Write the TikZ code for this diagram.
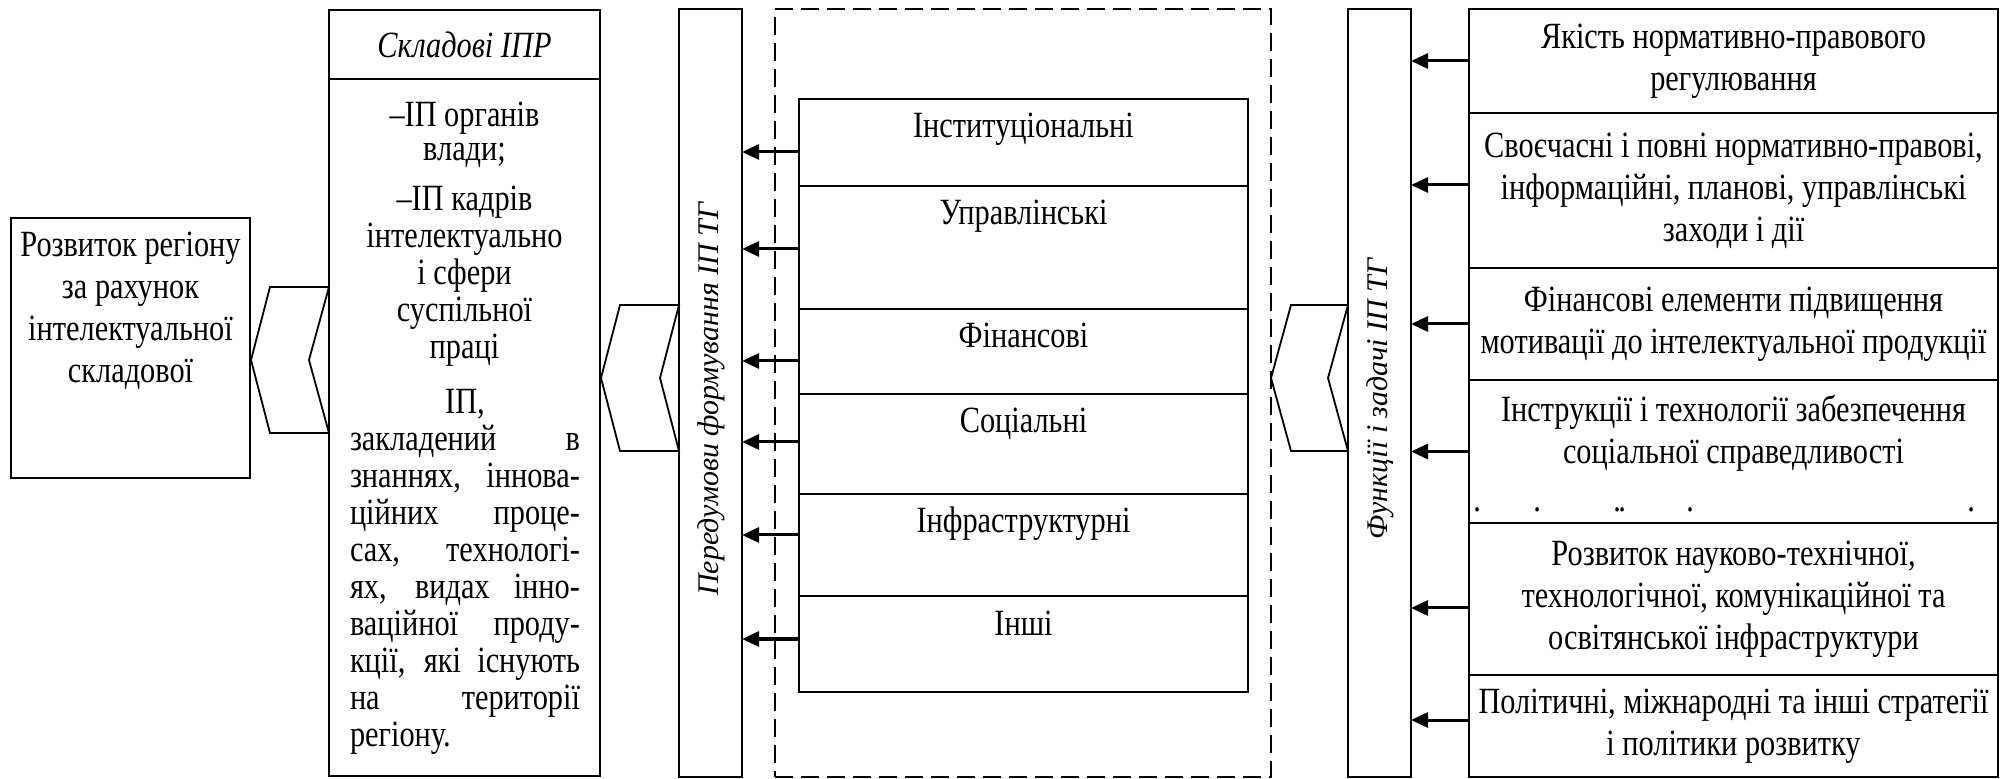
\documentclass[tikz,border=0pt]{standalone}
\usepackage{fontspec}
\setmainfont{Liberation Serif}[FakeStretch=0.82]
\newfontfamily\rotfont{Liberation Serif}
\usetikzlibrary{arrows.meta,calc}
\begin{document}
\begin{tikzpicture}[x=0.5pt,y=-0.5pt,
  box/.style={draw,line width=1pt,inner sep=0pt,outer sep=0pt},
  txt/.style={font=\fontsize{18.5}{21}\selectfont,align=center,inner sep=0pt},
  stxt/.style={font=\fontsize{18.5}{18.5}\selectfont,align=center,inner sep=0pt},
  rtxt/.style={font=\rotfont\itshape\fontsize{15}{17}\selectfont,inner sep=0pt},
  fcell/.style={box,txt,minimum width=224.5pt,anchor=north,text height=19.5pt,inner ysep=0pt},
  rcell/.style={box,txt,minimum width=264.5pt},
  vbox/.style={box,minimum width=31.5pt,minimum height=384pt},
  arr/.style={line width=1.5pt,-{Triangle[length=8.5pt,width=7.5pt]}},
  chev/.style={line width=0.9pt,line join=miter}]
\useasboundingbox (0,0) rectangle (2006,779);

% left box
\node[box,minimum width=119.5pt,minimum height=130pt] (L) at (130.5,348) {};
\node[txt] (Lt) at (130.5,310.5) {Розвиток регіону\\за рахунок\\інтелектуальної\\складової};

% Skladovi IPR
\node[box,txt,minimum width=135.5pt,minimum height=34.5pt] (SH) at (464.5,44.5) {\itshape Складові ІПР};
\node[box,minimum width=135.5pt,minimum height=348.5pt] (SB) at (464.5,427.5) {};
\node[stxt,font=\fontsize{18.5}{17}\selectfont] (S1) at (464.5,135) {–ІП органів\\влади;};
\node[stxt] (S2) at (464.5,276) {–ІП кадрів\\інтелектуально\\і сфери\\суспільної\\праці};
\node[stxt] (S3) at (465,571.5) {\makebox[115pt]{ІП,}\\
\makebox[115pt][s]{закладений в}\\
\makebox[115pt][s]{знаннях, іннова-}\\
\makebox[115pt][s]{ційних проце-}\\
\makebox[115pt][s]{сах, технологі-}\\
\makebox[115pt][s]{ях, видах інно-}\\
\makebox[115pt][s]{ваційної проду-}\\
\makebox[115pt][s]{кції, які існують}\\
\makebox[115pt][s]{на території}\\
\makebox[115pt][l]{регіону.}};

% Peredumovy
\node[vbox] (P) at (710.5,393) {};
\node[rtxt,rotate=90] (Pt) at (711,399) {Передумови формування ІП ТГ};

% dashed frame
\node[box,dash pattern=on 9pt off 4pt,minimum width=248pt,minimum height=384pt] (D) at (1023,393) {};

% factor cells
\node[fcell,text depth=24pt] (f1) at (1023.5,99) {Інституціональні};
\node[fcell,text depth=42pt] (f2) at (1023.5,186) {Управлінські};
\node[fcell,text depth=23pt] (f3) at (1023.5,309) {Фінансові};
\node[fcell,text depth=30.5pt] (f4) at (1023.5,394) {Соціальні};
\node[fcell,text depth=31.5pt] (f5) at (1023.5,494) {Інфраструктурні};
\node[fcell,text depth=28.5pt] (f6) at (1023.5,596) {Інші};

\draw[arr] ([yshift=-4.75pt]f1.west) -- ([yshift=-4.75pt]f1.west -| P.east);
\draw[arr] ([yshift=-0.75pt]f2.west) -- ([yshift=-0.75pt]f2.west -| P.east);
\draw[arr] ([yshift=-4.75pt]f3.west) -- ([yshift=-4.75pt]f3.west -| P.east);
\draw[arr] ([yshift=1pt]f4.west) -- ([yshift=1pt]f4.west -| P.east);
\draw[arr] ([yshift=5pt]f5.west) -- ([yshift=5pt]f5.west -| P.east);
\draw[arr] ([yshift=2.5pt]f6.west) -- ([yshift=2.5pt]f6.west -| P.east);

% Funktsii
\node[vbox] (F) at (1379.5,393) {};
\node[rtxt,rotate=90] (Ft) at (1380,399) {Функції і задачі ІП ТГ};

% right cells
\node[rcell,minimum height=52pt] (r1) at (1733.5,61) {Якість нормативно-правового\\регулювання};
\node[rcell,minimum height=77.5pt] (r2) at (1733.5,190.5) {Своєчасні і повні нормативно-правові,\\інформаційні, планові, управлінські\\заходи і дії};
\node[rcell,minimum height=56pt] (r3) at (1733.5,324) {Фінансові елементи підвищення\\мотивації до інтелектуальної продукції};
\node[rcell,minimum height=71.5pt] (r4) at (1733.5,451.5) {};
\node[txt] (r4t) at (1733.5,433.5) {Інструкції і технології забезпечення\\соціальної справедливості};
\node[txt,anchor=base west] (dots) at (1473,512) {\rlap{.}\hspace{30pt}\rlap{.}\hspace{40pt}\rlap{.}\hspace{2.5pt}\rlap{.}\hspace{34pt}\rlap{.}\hspace{140.5pt}\rlap{.}};
\node[rcell,minimum height=76pt] (r5) at (1733.5,599) {Розвиток науково-технічної,\\технологічної, комунікаційної та\\освітянської інфраструктури};
\node[rcell,minimum height=51pt] (r6) at (1733.5,726) {Політичні, міжнародні та інші стратегії\\і політики розвитку};

\draw[arr] (r1.west) -- (r1.west -| F.east);
\draw[arr] ([yshift=2.75pt]r2.west) -- ([yshift=2.75pt]r2.west -| F.east);
\draw[arr] (r3.west) -- (r3.west -| F.east);
\draw[arr] (r4.west) -- (r4.west -| F.east);
\draw[arr] ([yshift=-4.5pt]r5.west) -- ([yshift=-4.5pt]r5.west -| F.east);
\draw[arr] ([yshift=3pt]r6.west) -- ([yshift=3pt]r6.west -| F.east);

% chevrons
\draw[chev] (329,287) -- (270,287) -- (251,360) -- (270,433) -- (329,433) -- (309,360) -- cycle;
\draw[chev] (679,305) -- (620,305) -- (601,378) -- (620,451) -- (679,451) -- (660,378) -- cycle;
\draw[chev] (1348,305) -- (1291,305) -- (1271,378) -- (1291,451) -- (1348,451) -- (1328,378) -- cycle;
\end{tikzpicture}
\end{document}
